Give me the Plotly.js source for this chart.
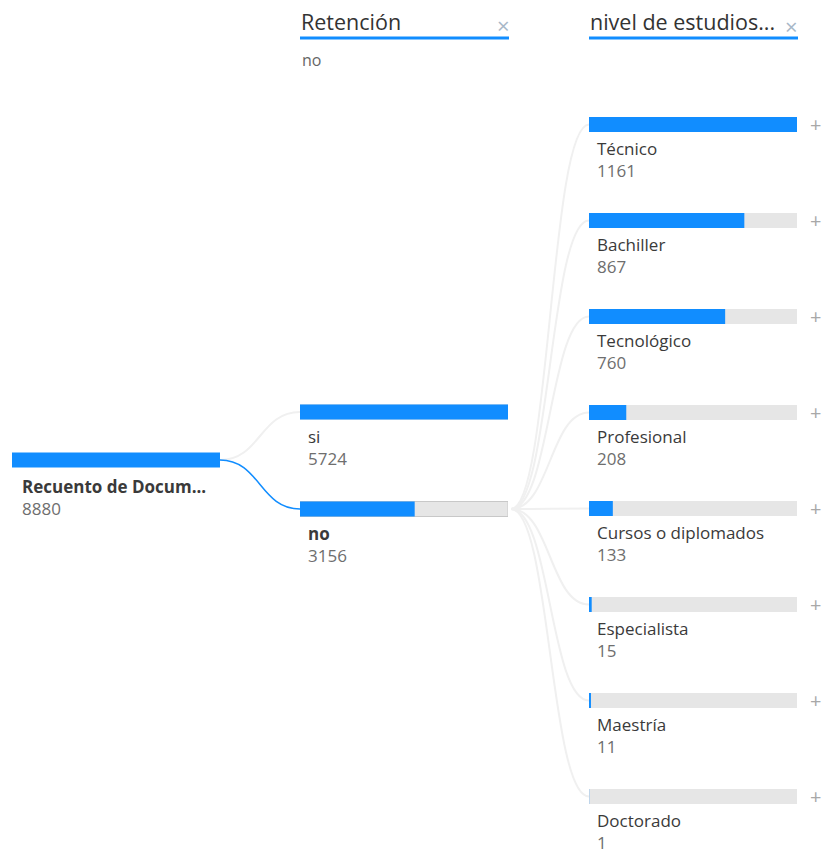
<!DOCTYPE html>
<html><head><meta charset="utf-8">
<script src="https://cdn.plot.ly/plotly-3.0.1.min.js"></script>
<style>html,body{margin:0;padding:0;background:#fff}#chart{width:822px;height:850px}</style>
</head><body><div id="chart"></div>
<script>
// ---- data ----
const rootLabel = 'Recuento de Docum...';
const rootValue = 8880;
const level1Title = 'Retención';
const level1Filter = 'no';
const retCats = ['si', 'no'];
const retVals = [5724, 3156];
const level2Title = 'nivel de estudios...';
const eduCats = ['Técnico', 'Bachiller', 'Tecnológico', 'Profesional', 'Cursos o diplomados', 'Especialista', 'Maestría', 'Doctorado'];
const eduVals = [1161, 867, 760, 208, 133, 15, 11, 1];
const selectedRet = 'no';

// ---- layout constants ----
const W = 822, H = 850;
const BLUE = '#118DFF', GRAY = '#E6E6E6';
const FONT = 'Open Sans, Noto Sans, sans-serif';
const barH = 15;
const col = [{x0: 12, x1: 220}, {x0: 300, x1: 508}, {x0: 589, x1: 797}];
const rootY = 460;
const retY = [412, 509];
const eduY = eduCats.map((_, i) => 124.5 + 96 * i);

const maxRet = Math.max(...retVals);
const maxEdu = Math.max(...eduVals);

const traces = [];
traces.push({type: 'bar', orientation: 'h', x: [rootValue], y: [rootY], width: barH, base: 0,
  marker: {color: BLUE}, xaxis: 'x2', yaxis: 'y', hoverinfo: 'skip', showlegend: false});
traces.push({type: 'bar', orientation: 'h', x: retCats.map(() => maxRet), y: retY, width: barH, base: 0,
  marker: {color: GRAY, line: {color: retCats.map(c => c === selectedRet ? '#C8C8C8' : GRAY), width: 1}},
  xaxis: 'x3', yaxis: 'y', hoverinfo: 'skip', showlegend: false});
traces.push({type: 'bar', orientation: 'h', x: retVals, y: retY, width: barH, base: 0,
  marker: {color: BLUE}, xaxis: 'x3', yaxis: 'y', hoverinfo: 'skip', showlegend: false});
traces.push({type: 'bar', orientation: 'h', x: eduCats.map(() => maxEdu), y: eduY, width: barH, base: 0,
  marker: {color: GRAY}, xaxis: 'x4', yaxis: 'y', hoverinfo: 'skip', showlegend: false});
traces.push({type: 'bar', orientation: 'h', x: eduVals, y: eduY, width: barH, base: 0,
  marker: {color: BLUE}, xaxis: 'x4', yaxis: 'y', hoverinfo: 'skip', showlegend: false});

const shapes = [];
function curve(x0, y0, x1, y1, color, w) {
  const mx = (x0 + x1) / 2;
  shapes.push({type: 'path', xref: 'x', yref: 'y', layer: 'below',
    path: `M ${x0},${y0} C ${mx},${y0} ${mx},${y1} ${x1},${y1}`,
    line: {color: color, width: w}});
}
retCats.forEach((c, i) => {
  const sel = c === selectedRet;
  curve(col[0].x1, rootY, col[1].x0, retY[i], sel ? BLUE : '#F0F0F0', sel ? 1.5 : 2);
});
const selIdx = retCats.indexOf(selectedRet);
eduY.forEach(y => curve(col[1].x1 + 3, retY[selIdx], col[2].x0, y, '#F0F0F0', 2));

shapes.push({type: 'line', xref: 'x', yref: 'y', x0: col[1].x0, x1: col[1].x1 + 1, y0: 38, y1: 38, line: {color: BLUE, width: 3}});
shapes.push({type: 'line', xref: 'x', yref: 'y', x0: col[2].x0, x1: col[2].x1 + 1, y0: 38, y1: 38, line: {color: BLUE, width: 3}});

const ann = [];
function txt(x, y, t, size, color, bold) {
  ann.push({xref: 'x', yref: 'y', x: x, y: y, text: bold ? '<b>' + t + '</b>' : t, showarrow: false,
    xanchor: 'left', yanchor: 'middle', font: {family: FONT, size: size, color: color}});
}
const NAME = '#3A3A3A', VAL = '#6E6E6E', LBL = 17;
// node label: name line + value line in one annotation
function node(x, yc, name, value, bold) {
  const n = bold ? '<b>' + name + '</b>' : name;
  ann.push({xref: 'x', yref: 'y', x: x, y: yc, showarrow: false, xanchor: 'left', yanchor: 'middle', align: 'left',
    text: n + '<br><span style="color:' + VAL + '">' + value + '</span>',
    font: {family: FONT, size: LBL, color: NAME}});
}
txt(col[1].x0 - 1, 21, level1Title, 21.5, '#333333');
txt(col[2].x0 - 1, 21, level2Title, 21.5, '#333333');
ann.push({xref: 'x', yref: 'y', x: 503, y: 25, text: '×', showarrow: false, font: {family: FONT, size: 22, color: '#A8B8C8'}});
ann.push({xref: 'x', yref: 'y', x: 791, y: 26, text: '×', showarrow: false, font: {family: FONT, size: 22, color: '#A8B8C8'}});
txt(col[1].x0, 60, level1Filter, 16, '#666666');

node(col[0].x0 + 8, rootY + 37, rootLabel, rootValue, true);
retCats.forEach((c, i) => node(col[1].x0 + 6, retY[i] + 35, c, retVals[i], c === selectedRet));
eduCats.forEach((c, i) => {
  node(col[2].x0 + 6, eduY[i] + 34.5, c, eduVals[i], false);
  ann.push({xref: 'x', yref: 'y', x: 815, y: eduY[i], text: '+', showarrow: false,
    font: {family: FONT, size: 20, color: '#A8A8A8'}});
});

const hid = {visible: false, fixedrange: true};
const layout = {
  width: W, height: H, margin: {l: 0, r: 0, t: 0, b: 0},
  paper_bgcolor: '#fff', plot_bgcolor: 'rgba(0,0,0,0)',
  barmode: 'overlay', showlegend: false,
  xaxis: Object.assign({domain: [0, 1], range: [0, W]}, hid),
  xaxis2: Object.assign({domain: [col[0].x0 / W, col[0].x1 / W], range: [0, rootValue], anchor: 'y'}, hid),
  xaxis3: Object.assign({domain: [col[1].x0 / W, col[1].x1 / W], range: [0, maxRet], anchor: 'y'}, hid),
  xaxis4: Object.assign({domain: [col[2].x0 / W, col[2].x1 / W], range: [0, maxEdu], anchor: 'y'}, hid),
  yaxis: Object.assign({domain: [0, 1], range: [H, 0]}, hid),
  shapes: shapes, annotations: ann
};
traces.unshift({type: 'scatter', x: [0], y: [0], mode: 'markers', marker: {opacity: 0}, xaxis: 'x', yaxis: 'y', hoverinfo: 'skip'});
Plotly.newPlot('chart', traces, layout, {displayModeBar: false, staticPlot: true});
</script></body></html>
